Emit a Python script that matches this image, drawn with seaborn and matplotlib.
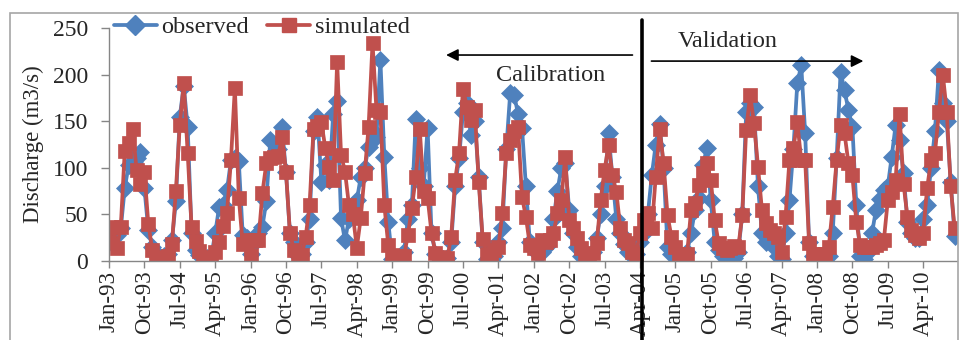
import numpy as np
import pandas as pd
import matplotlib
matplotlib.use("Agg")
import matplotlib.pyplot as plt
from matplotlib.patches import Rectangle
from matplotlib.lines import Line2D
import seaborn as sns

# ---------------- data (monthly discharge, m3/s) ----------------
obs_1993 = [20, 28, 28, 35, 78, 103, 115, 110, 117, 78, 33, 15]
obs_1994 = [6, 4, 5, 8, 22, 64, 155, 188, 144, 30, 12, 6]
obs_1995 = [4, 3, 5, 30, 58, 60, 76, 108, 110, 107, 28, 25]
obs_1996 = [8, 20, 30, 37, 64, 130, 115, 120, 144, 95, 30, 20]
obs_1997 = [5, 8, 20, 45, 140, 155, 85, 103, 87, 158, 172, 46]
obs_1998 = [22, 45, 60, 65, 90, 100, 122, 140, 133, 216, 112, 42]
obs_1999 = [2, 2, 3, 10, 45, 60, 152, 100, 80, 143, 30, 8]
obs_2000 = [3, 2, 3, 20, 80, 110, 160, 170, 135, 150, 90, 20]
obs_2001 = [2, 1, 5, 20, 35, 120, 180, 178, 158, 143, 80, 20]
obs_2002 = [15, 8, 10, 15, 25, 45, 75, 100, 105, 55, 30, 15]
obs_2003 = [5, 3, 5, 10, 25, 50, 80, 137, 90, 45, 30, 18]
obs_2004 = [10, 8, 8, 20, 30, 50, 92, 125, 147, 100, 15, 8]
obs_2005 = [5, 3, 3, 10, 30, 55, 68, 103, 121, 65, 20, 12]
obs_2006 = [5, 3, 3, 3, 10, 50, 160, 170, 165, 80, 30, 20]
obs_2007 = [25, 15, 5, 2, 30, 65, 120, 191, 210, 137, 20, 5]
obs_2008 = [3, 2, 3, 5, 30, 110, 203, 183, 162, 144, 60, 5]
obs_2009 = [2, 10, 30, 55, 67, 76, 80, 112, 146, 130, 94, 42]
obs_2010 = [30, 25, 25, 45, 60, 100, 140, 205, 170, 150, 85, 27]

sim_1993 = [20, 37, 14, 37, 118, 127, 142, 98, 83, 95, 40, 12]
sim_1994 = [4, 3, 3, 5, 18, 75, 146, 191, 116, 36, 21, 11]
sim_1995 = [4, 3, 3, 10, 20, 38, 52, 108, 186, 68, 18, 22]
sim_1996 = [6, 22, 22, 73, 105, 110, 112, 113, 133, 96, 30, 12]
sim_1997 = [4, 6, 26, 60, 142, 145, 149, 121, 101, 87, 214, 114]
sim_1998 = [96, 60, 50, 14, 46, 94, 144, 234, 162, 160, 60, 17]
sim_1999 = [6, 5, 5, 5, 28, 57, 90, 142, 75, 68, 30, 9]
sim_2000 = [4, 3, 3, 26, 87, 116, 185, 165, 151, 162, 85, 24]
sim_2001 = [8, 5, 12, 15, 51, 116, 130, 139, 144, 69, 47, 17]
sim_2002 = [14, 9, 22, 20, 22, 30, 51, 65, 112, 44, 35, 25]
sim_2003 = [14, 6, 4, 9, 19, 65, 98, 124, 92, 74, 35, 22]
sim_2004 = [19, 10, 8, 30, 44, 51, 35, 90, 142, 105, 49, 26]
sim_2005 = [15, 8, 6, 8, 55, 62, 82, 94, 105, 87, 44, 19]
sim_2006 = [14, 12, 14, 16, 15, 49, 141, 178, 148, 101, 55, 41]
sim_2007 = [33, 30, 26, 10, 47, 108, 121, 149, 108, 108, 19, 8]
sim_2008 = [6, 8, 8, 15, 58, 108, 146, 137, 105, 92, 42, 17]
sim_2009 = [15, 15, 15, 17, 19, 22, 65, 74, 87, 158, 83, 47]
sim_2010 = [33, 28, 25, 30, 78, 108, 116, 160, 200, 160, 80, 35]

observed = sum([obs_1993, obs_1994, obs_1995, obs_1996, obs_1997, obs_1998,
                obs_1999, obs_2000, obs_2001, obs_2002, obs_2003, obs_2004,
                obs_2005, obs_2006, obs_2007, obs_2008, obs_2009, obs_2010], [])
simulated = sum([sim_1993, sim_1994, sim_1995, sim_1996, sim_1997, sim_1998,
                 sim_1999, sim_2000, sim_2001, sim_2002, sim_2003, sim_2004,
                 sim_2005, sim_2006, sim_2007, sim_2008, sim_2009, sim_2010], [])

dates = pd.date_range("1993-01-01", periods=len(observed), freq="MS")
month_idx = np.arange(len(observed))
tick_step = 9
y_ticks = [0, 50, 100, 150, 200, 250]
split_month = 135  # Apr-04

df = pd.DataFrame({
    "idx": np.concatenate([month_idx, month_idx]),
    "Discharge": observed + simulated,
    "series": ["observed"] * len(observed) + ["simulated"] * len(simulated),
})

# ---------------- style ----------------
sns.set_theme(style="white")
plt.rcParams["font.family"] = ["Liberation Serif", "DejaVu Serif"]

blue = "#4F81BD"
red = "#C0504D"
grey = "#868686"
lw = 2.7

fig = plt.figure(figsize=(9.6, 3.4), dpi=100)
ax = fig.add_axes([109 / 960, 79 / 340, 848 / 960, 233 / 340])

sns.lineplot(data=df, x="idx", y="Discharge", hue="series", style="series",
             palette={"observed": blue, "simulated": red},
             markers={"observed": "D", "simulated": "s"},
             dashes=False, linewidth=lw, markersize=9.5,
             markeredgewidth=0.5, ax=ax, legend=False)
for ln, col in zip(ax.lines, [blue, red]):
    ln.set_markeredgecolor(col)

ax.set_xlim(0, 215.6)
ax.set_ylim(0, 250)
ax.set_yticks(y_ticks)
ax.set_xticks(month_idx[::tick_step])
ax.set_xticklabels([d.strftime("%b-%y") for d in dates[::tick_step]],
                   rotation=90, fontsize=16.5)
ax.tick_params(axis="y", labelsize=17, length=6, width=1, color=grey,
               direction="out", left=True, pad=9)
ax.tick_params(axis="x", length=5, width=1, color=grey, direction="out",
               bottom=True, pad=2)
ax.set_xlabel("")
ax.set_ylabel("Discharge (m3/s)", fontsize=16.5)
ax.yaxis.set_label_coords(-0.077, 0.5)
for side in ["top", "right"]:
    ax.spines[side].set_visible(False)
for side in ["left", "bottom"]:
    ax.spines[side].set_color(grey)
    ax.spines[side].set_linewidth(1)

# legend
handles = [Line2D([], [], color=blue, lw=lw, marker="D", markersize=10,
                  markeredgecolor=blue),
           Line2D([], [], color=red, lw=lw, marker="s", markersize=10,
                  markeredgecolor=red)]
fig.legend(handles, ["observed", "simulated"], loc="upper left",
           bbox_to_anchor=(114 / 960, 1 - 16 / 340), ncol=2, frameon=False,
           fontsize=17.5, handlelength=1.75, handletextpad=0.2,
           columnspacing=0.75, borderaxespad=0, borderpad=0)

# split line and annotations
xt = ax.get_xaxis_transform()
ax.plot([split_month + 0.4] * 2, [1.034, -0.34], transform=xt, color="black",
        lw=2.6, clip_on=False, zorder=5)
ax.annotate("", xy=(85, 221), xytext=(133.8, 221),
            arrowprops=dict(arrowstyle="-|>", color="black", lw=1.2,
                            mutation_scale=18))
ax.annotate("", xy=(192.5, 214.5), xytext=(137.2, 214.5),
            arrowprops=dict(arrowstyle="-|>", color="black", lw=1.2,
                            mutation_scale=18))
ax.text(112.2, 198.5, "Calibration", ha="center", va="center", fontsize=17.5)
ax.text(157.3, 236, "Validation", ha="center", va="center", fontsize=17.5)

# chart-area border
fig.patches.append(Rectangle((10 / 960, -0.1), 948 / 960, 1.1 - 13 / 340,
                             transform=fig.transFigure, fill=False,
                             edgecolor="#A6A6A6", lw=1.2))

fig.savefig("out.png", dpi=100)
